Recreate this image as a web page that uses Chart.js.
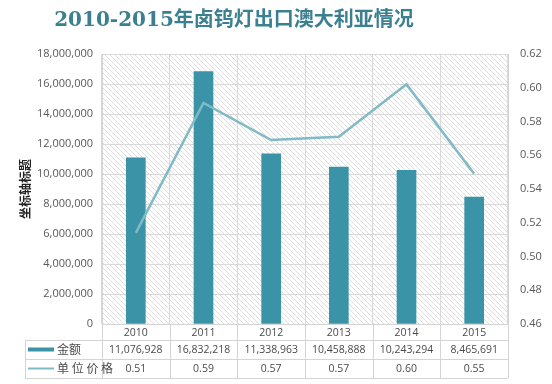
<!DOCTYPE html>
<html>
<head>
<meta charset="utf-8">
<script src="https://cdn.jsdelivr.net/npm/chart.js@4/dist/chart.umd.min.js"></script>
<style>
  html, body { margin: 0; padding: 0; background: #fff; }
  #wrap { width: 552px; height: 384px; }
</style>
</head>
<body>
<div id="wrap"><canvas id="chart" width="552" height="384"></canvas></div>
<script>
var years = ["2010", "2011", "2012", "2013", "2014", "2015"];
var amounts = [11076928, 16832218, 11338963, 10458888, 10243294, 8465691];
var unitPrices = [0.514, 0.591, 0.569, 0.571, 0.602, 0.549];
var priceLabels = ["0.51", "0.59", "0.57", "0.57", "0.60", "0.55"];
var seriesNames = ["金额", "单位价格"];
var titleText = "2010-2015年卤钨灯出口澳大利亚情况";

var barColor = "#3A93A6";
var lineColor = "#80BAC6";
var tickFont = { family: "'Open Sans', 'Noto Sans CJK SC', sans-serif", size: 11 };

function hatchPattern() {
    var c = document.createElement("canvas");
    c.width = 5; c.height = 5;
    var g = c.getContext("2d");
    g.fillStyle = "#ffffff";
    g.fillRect(0, 0, 5, 5);
    g.strokeStyle = "#dedede";
    g.lineWidth = 1;
    g.beginPath();
    g.moveTo(-1, -1); g.lineTo(6, 6);
    g.moveTo(-1, 4); g.lineTo(1, 6);
    g.moveTo(4, -1); g.lineTo(6, 1);
    g.stroke();
    return g.createPattern(c, "repeat");
}

const backdrop = {
    id: "backdrop",
    beforeDraw(chart) {
        const ctx = chart.ctx, a = chart.chartArea;
        ctx.save();
        ctx.fillStyle = hatchPattern();
        ctx.fillRect(a.left, a.top, a.right - a.left, a.bottom - a.top);
        ctx.restore();
    }
};

const titleAndTable = {
    id: "titleAndTable",
    afterDraw(chart) {
        const ctx = chart.ctx, a = chart.chartArea, x = chart.scales.x;
        ctx.save();
        // title
        ctx.fillStyle = "#3A8090";
        ctx.font = "bold 20px 'DejaVu Serif', 'Noto Sans CJK SC', serif";
        ctx.textAlign = "center";
        ctx.textBaseline = "middle";
        ctx.fillText(titleText, 234, 21);

        // table
        const step = (a.right - a.left) / years.length;
        const tableLeft = 25, r0 = a.bottom, r1 = 340, r2 = 359, r3 = 378;
        ctx.strokeStyle = "#d4d4d4";
        ctx.lineWidth = 1;
        ctx.beginPath();
        ctx.moveTo(tableLeft, r1 + 0.5); ctx.lineTo(a.right, r1 + 0.5);
        ctx.moveTo(tableLeft, r2 + 0.5); ctx.lineTo(a.right, r2 + 0.5);
        ctx.moveTo(tableLeft, r3 + 0.5); ctx.lineTo(a.right, r3 + 0.5);
        ctx.moveTo(tableLeft + 0.5, r1); ctx.lineTo(tableLeft + 0.5, r3);
        for (let i = 0; i <= years.length; i++) {
            const px = Math.round(a.left + i * step) + 0.5;
            ctx.moveTo(px, r0); ctx.lineTo(px, r3);
        }
        ctx.stroke();

        ctx.font = "10.5px 'Open Sans', 'Noto Sans CJK SC', sans-serif";
        ctx.fillStyle = "#4a4a4a";
        ctx.textAlign = "center";
        years.forEach(function (y, i) {
            const cx = x.getPixelForValue(i);
            ctx.fillText(y, cx, (r0 + r1) / 2 + 1);
            ctx.fillText(amounts[i].toLocaleString("en-US"), cx, (r1 + r2) / 2 + 1);
            ctx.fillText(priceLabels[i], cx, (r2 + r3) / 2 + 1);
        });

        // legend keys
        ctx.fillStyle = barColor;
        ctx.fillRect(28, (r1 + r2) / 2 - 2, 26, 4);
        ctx.strokeStyle = lineColor;
        ctx.lineWidth = 2;
        ctx.beginPath();
        ctx.moveTo(28, (r2 + r3) / 2); ctx.lineTo(54, (r2 + r3) / 2);
        ctx.stroke();
        ctx.fillStyle = "#4a4a4a";
        ctx.textAlign = "left";
        ctx.font = "12px 'Noto Sans CJK SC', sans-serif";
        ctx.fillText(seriesNames[0], 57, (r1 + r2) / 2);
        ctx.fillText(seriesNames[1].split("").join(" "), 57, (r2 + r3) / 2);
        ctx.restore();
    }
};

new Chart(document.getElementById("chart"), {
    data: {
        labels: years,
        datasets: [{
            type: "line",
            label: seriesNames[1],
            data: unitPrices,
            yAxisID: "y2",
            borderColor: lineColor,
            borderWidth: 2.5,
            pointRadius: 0,
            tension: 0,
            order: 0
        }, {
            type: "bar",
            label: seriesNames[0],
            data: amounts,
            yAxisID: "y",
            backgroundColor: barColor,
            barThickness: 19,
            order: 1
        }]
    },
    options: {
        responsive: false,
        animation: false,
        layout: { padding: { top: 54, bottom: 60, left: 18, right: 0 } },
        plugins: {
            legend: { display: false },
            tooltip: { enabled: false }
        },
        scales: {
            x: {
                offset: true,
                ticks: { display: false },
                grid: { color: "#d9d9d9", offset: true, drawTicks: false },
                border: { color: "#d4d4d4" }
            },
            y: {
                position: "left",
                min: 0, max: 18000000,
                ticks: {
                    stepSize: 2000000,
                    color: "#595959",
                    font: tickFont,
                    padding: 9,
                    callback: function (v) { return v.toLocaleString("en-US"); }
                },
                title: {
                    display: true,
                    text: "坐标轴标题",
                    color: "#222",
                    font: { family: "'Noto Sans CJK SC', sans-serif", size: 12, weight: "bold" },
                    padding: 0
                },
                grid: { color: "#d9d9d9", drawTicks: false },
                border: { color: "#d4d4d4" },
                afterFit: function (s) { s.width = 84; }
            },
            y2: {
                position: "right",
                min: 0.46, max: 0.62,
                ticks: {
                    stepSize: 0.02,
                    color: "#595959",
                    font: tickFont,
                    padding: 12,
                    callback: function (v) { return v.toFixed(2); }
                },
                grid: { display: false, drawTicks: false },
                border: { color: "#d4d4d4" },
                afterFit: function (s) { s.width = 44; }
            }
        }
    },
    plugins: [backdrop, titleAndTable]
});
</script>
</body>
</html>
